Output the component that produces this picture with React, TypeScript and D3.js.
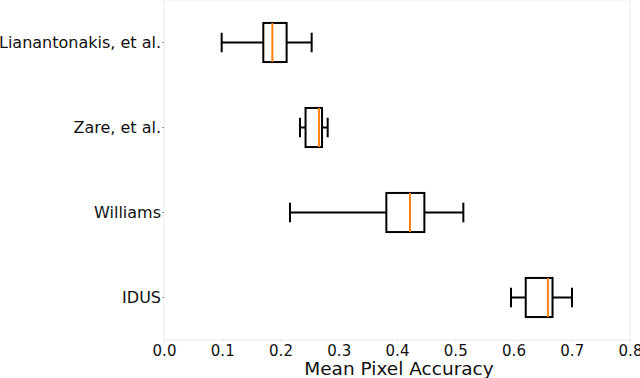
import React, { useEffect, useRef } from "react";
import * as d3 from "d3";

// Box statistics (x = mean pixel accuracy)
const methods = ["Lianantonakis, et al.", "Zare, et al.", "Williams", "IDUS"];
const whiskerLow = [0.099, 0.2335, 0.2163, 0.5957];
const quartile1 = [0.1705, 0.243, 0.3817, 0.621];
const medians = [0.186, 0.266, 0.4223, 0.659];
const quartile3 = [0.2105, 0.2713, 0.447, 0.667];
const whiskerHigh = [0.2535, 0.281, 0.5139, 0.7004];
const xTicks = [0, 0.1, 0.2, 0.3, 0.4, 0.5, 0.6, 0.7, 0.8];

const App = () => {
  const svgRef = useRef<SVGSVGElement>(null);

  useEffect(() => {
    const width = 640;
    const height = 378;
    const margin = { top: 0, right: 10, bottom: 38, left: 164 };
    const innerW = 630 - margin.left;
    const innerH = 340 - margin.top;
    const font = "DejaVu Sans, sans-serif";

    const svg = d3.select(svgRef.current);
    svg.selectAll("*").remove();
    svg.attr("width", width).attr("height", height);

    const g = svg.append("g").attr("transform", `translate(${margin.left},${margin.top})`);

    const x = d3.scaleLinear().domain([0, 0.8]).range([0, innerW]);
    const y = d3.scaleBand().domain(methods).range([0, innerH]);

    const rows = methods.map((m, i) => ({
      name: m,
      lo: whiskerLow[i],
      q1: quartile1[i],
      med: medians[i],
      q3: quartile3[i],
      hi: whiskerHigh[i],
    }));

    // faint frame
    g.append("rect")
      .attr("x", 0)
      .attr("y", 0)
      .attr("width", innerW)
      .attr("height", innerH)
      .attr("fill", "none")
      .attr("stroke", "#ebebeb")
      .attr("stroke-width", 1);

    // x axis
    const xAxis = g
      .append("g")
      .attr("transform", `translate(0,${innerH})`)
      .call(d3.axisBottom(x).tickValues(xTicks).tickFormat(d3.format(".1f")).tickSize(2).tickPadding(3));
    xAxis.select(".domain").remove();
    xAxis.selectAll("line").attr("stroke", "#e0e0e0");
    xAxis.selectAll("text").attr("font-family", font).attr("font-size", 15).attr("fill", "#111");

    // y axis
    const yAxis = g.append("g").call(d3.axisLeft(y).tickSize(2).tickPadding(1));
    yAxis.select(".domain").remove();
    yAxis.selectAll("line").attr("stroke", "#999");
    yAxis.selectAll("text").attr("font-family", font).attr("font-size", 16).attr("fill", "#111");

    // x label
    svg
      .append("text")
      .attr("x", margin.left + innerW / 2 + 2)
      .attr("y", 375)
      .attr("text-anchor", "middle")
      .attr("font-family", font)
      .attr("font-size", 18.5)
      .attr("fill", "#111")
      .text("Mean Pixel Accuracy");

    const boxH = y.bandwidth() * 0.46;
    const capH = boxH / 2;

    const box = g
      .selectAll(".box")
      .data(rows)
      .enter()
      .append("g")
      .attr("class", "box")
      .attr("transform", (d) => `translate(0,${(y(d.name) ?? 0) + y.bandwidth() / 2})`);

    // whiskers
    box.append("line")
      .attr("x1", (d) => x(d.lo))
      .attr("x2", (d) => x(d.q1))
      .attr("stroke", "#000")
      .attr("stroke-width", 2);
    box.append("line")
      .attr("x1", (d) => x(d.q3))
      .attr("x2", (d) => x(d.hi))
      .attr("stroke", "#000")
      .attr("stroke-width", 2);
    // caps
    box.append("line")
      .attr("x1", (d) => x(d.lo))
      .attr("x2", (d) => x(d.lo))
      .attr("y1", -capH / 2)
      .attr("y2", capH / 2)
      .attr("stroke", "#000")
      .attr("stroke-width", 2);
    box.append("line")
      .attr("x1", (d) => x(d.hi))
      .attr("x2", (d) => x(d.hi))
      .attr("y1", -capH / 2)
      .attr("y2", capH / 2)
      .attr("stroke", "#000")
      .attr("stroke-width", 2);
    // box
    box.append("rect")
      .attr("x", (d) => x(d.q1))
      .attr("y", -boxH / 2)
      .attr("width", (d) => x(d.q3) - x(d.q1))
      .attr("height", boxH)
      .attr("fill", "none")
      .attr("stroke", "#000")
      .attr("stroke-width", 2);
    // median
    box.append("line")
      .attr("x1", (d) => x(d.med))
      .attr("x2", (d) => x(d.med))
      .attr("y1", -boxH / 2)
      .attr("y2", boxH / 2)
      .attr("stroke", "#ff7f0e")
      .attr("stroke-width", 2);
  }, []);

  return <svg ref={svgRef} style={{ position: "absolute", left: 0, top: 0 }}></svg>;
};

export default App;
